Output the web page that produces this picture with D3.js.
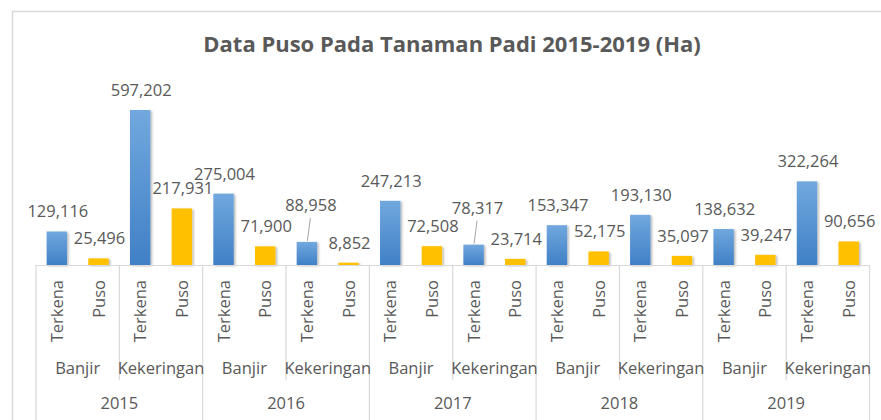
<!DOCTYPE html>
<html>
<head>
<meta charset="utf-8">
<script src="https://cdn.jsdelivr.net/npm/d3@7"></script>
<style>
  body { margin: 0; background: #fff; }
  text { font-family: "Open Sans", sans-serif; fill: #595959; }
</style>
</head>
<body>
<div id="chart"></div>
<script>
(function() {
  var width = 881, height = 420;

  // data
  var years = ["2015", "2016", "2017", "2018", "2019"];
  var causes = ["Banjir", "Kekeringan"];
  var types = ["Terkena", "Puso"];
  var terkenaBanjir = [129116, 275004, 247213, 153347, 138632];
  var pusoBanjir = [25496, 71900, 72508, 52175, 39247];
  var terkenaKekeringan = [597202, 88958, 78317, 193130, 322264];
  var pusoKekeringan = [217931, 8852, 23714, 35097, 90656];

  var series = {
    "Banjir": { "Terkena": terkenaBanjir, "Puso": pusoBanjir },
    "Kekeringan": { "Terkena": terkenaKekeringan, "Puso": pusoKekeringan }
  };

  var rows = [];
  years.forEach(function(yr, yi) {
    causes.forEach(function(c) {
      types.forEach(function(t) {
        rows.push({ year: yr, cause: c, type: t, value: series[c][t][yi] });
      });
    });
  });
  rows.forEach(function(d, i) { d.i = i; });

  var svg = d3.select("#chart").append("svg")
    .attr("width", width).attr("height", height);

  var defs = svg.append("defs");
  var grad = defs.append("linearGradient").attr("id", "blueGrad")
    .attr("x1", "0%").attr("x2", "0%").attr("y1", "0%").attr("y2", "100%");
  grad.append("stop").attr("offset", "0%").style("stop-color", "#71a8de");
  grad.append("stop").attr("offset", "100%").style("stop-color", "#4080c6");

  var shadow = defs.append("filter").attr("id", "shadow")
    .attr("x", "-30%").attr("y", "-10%").attr("width", "160%").attr("height", "130%");
  shadow.append("feDropShadow").attr("dx", 1.5).attr("dy", 1)
    .attr("stdDeviation", 1).attr("flood-color", "#000").attr("flood-opacity", 0.3);

  // chart border
  svg.append("rect")
    .attr("x", 12.5).attr("y", 11.5)
    .attr("width", width + 20).attr("height", height + 20)
    .attr("fill", "none").attr("stroke", "#d9d9d9").attr("stroke-width", 1.5);

  svg.append("text")
    .attr("x", 452).attr("y", 52)
    .attr("text-anchor", "middle")
    .style("font-size", "22px").style("font-weight", "bold")
    .text("Data Puso Pada Tanaman Padi 2015-2019 (Ha)");

  var baseY = 265;
  var x = d3.scaleBand().domain(d3.range(rows.length)).range([36, 869.5]).padding(0);
  // 597,202 reaches y=110, so 155px for that value
  var y = d3.scaleLinear().domain([0, 700000]).range([baseY, baseY - 700000 * 155 / 597202]);
  var bw = x.bandwidth() * 0.49;
  var fmt = d3.format(",");

  svg.selectAll(".bar")
    .data(rows)
    .enter().append("rect")
    .attr("class", "bar")
    .attr("x", function(d) { return x(d.i) + (x.bandwidth() - bw) / 2; })
    .attr("y", function(d) { return y(d.value); })
    .attr("width", bw)
    .attr("height", function(d) { return baseY - y(d.value); })
    .attr("fill", function(d) { return d.type == "Terkena" ? "url(#blueGrad)" : "#ffc000"; })
    .attr("filter", "url(#shadow)");

  // labels that were pushed up, with a leader line
  var lifted = { "2016-Kekeringan-Terkena": 37, "2017-Kekeringan-Terkena": 37 };
  function lift(d) { return lifted[d.year + "-" + d.cause + "-" + d.type] || 0; }

  svg.selectAll(".leader")
    .data(rows.filter(function(d) { return lift(d) > 0; }))
    .enter().append("line")
    .attr("class", "leader")
    .attr("x1", function(d) { return x(d.i) + x.bandwidth() / 2 + 0.5; })
    .attr("y1", function(d) { return y(d.value) - 1; })
    .attr("x2", function(d) { return x(d.i) + x.bandwidth() / 2 + 3.5; })
    .attr("y2", function(d) { return y(d.value) - lift(d) + 13; })
    .attr("stroke", "#a6a6a6").attr("stroke-width", 1);

  svg.selectAll(".val")
    .data(rows)
    .enter().append("text")
    .attr("class", "val")
    .attr("x", function(d) { return x(d.i) + x.bandwidth() / 2 + (lift(d) ? 4 : 1); })
    .attr("y", function(d) { return y(d.value) - 14 - (lift(d) ? lift(d) - 20 : 0); })
    .attr("text-anchor", "middle")
    .style("font-size", "16.5px")
    .text(function(d) { return fmt(d.value); });

  // category axis
  var axis = svg.append("g").attr("stroke", "#d9d9d9").attr("stroke-width", 1.2);
  axis.append("line")
    .attr("x1", 36).attr("x2", 869.5).attr("y1", baseY + 0.5).attr("y2", baseY + 0.5);
  var edges = d3.range(0, rows.length + 1, 2);
  axis.selectAll(".sep")
    .data(edges)
    .enter().append("line")
    .attr("x1", function(k) { return k < rows.length ? x(k) : x.range()[1]; })
    .attr("x2", function(k) { return k < rows.length ? x(k) : x.range()[1]; })
    .attr("y1", baseY)
    .attr("y2", function(k) { return k % 4 == 0 ? height : 380; });

  svg.selectAll(".type")
    .data(rows)
    .enter().append("text")
    .attr("class", "type")
    .attr("transform", function(d) {
      return "translate(" + (x(d.i) + x.bandwidth() / 2 + 6) + ",280) rotate(-90)";
    })
    .attr("text-anchor", "end")
    .style("font-size", "16.5px")
    .text(function(d) { return d.type; });

  var pairs = rows.filter(function(d) { return d.type == "Terkena"; });
  svg.selectAll(".cause")
    .data(pairs)
    .enter().append("text")
    .attr("class", "cause")
    .attr("x", function(d) { return x(d.i) + x.bandwidth(); })
    .attr("y", 374)
    .attr("text-anchor", "middle")
    .style("font-size", "16.5px")
    .text(function(d) { return d.cause; });

  var firsts = rows.filter(function(d) { return d.type == "Terkena" && d.cause == "Banjir"; });
  svg.selectAll(".year")
    .data(firsts)
    .enter().append("text")
    .attr("class", "year")
    .attr("x", function(d) { return x(d.i) + x.bandwidth() * 2; })
    .attr("y", 409)
    .attr("text-anchor", "middle")
    .style("font-size", "16.5px")
    .text(function(d) { return d.year; });
})();
</script>
</body>
</html>
